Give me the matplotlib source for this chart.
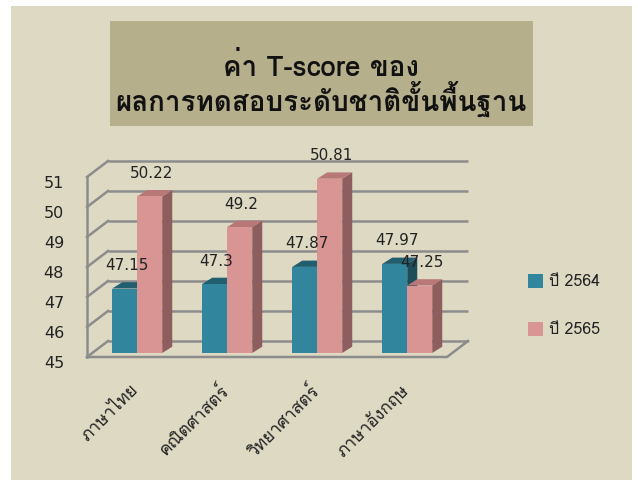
import matplotlib
matplotlib.use("Agg")
import matplotlib.pyplot as plt
from matplotlib.patches import Polygon, Rectangle
from matplotlib import font_manager
from matplotlib.ft2font import FT2Font

categories = ["ภาษาไทย", "คณิตศาสตร์", "วิทยาศาสตร์", "ภาษาอังกฤษ"]
series_names = ["ปี 2564", "ปี 2565"]
values_2564 = [47.15, 47.30, 47.87, 47.97]
values_2565 = [50.22, 49.20, 50.81, 47.25]
label_2564 = ["47.15", "47.3", "47.87", "47.97"]
label_2565 = ["50.22", "49.2", "50.81", "47.25"]
yticks = [45, 46, 47, 48, 49, 50, 51]
title_lines = ["ค่า T-score ของ", "ผลการทดสอบระดับชาติขั้นพื้นฐาน"]

# pick a font with Thai glyphs (prefer Loma)
thai_fonts = []
for f in font_manager.fontManager.ttflist:
    try:
        cm = FT2Font(f.fname).get_charmap()
        if 0x0E01 in cm and f.name not in thai_fonts:
            thai_fonts.append(f.name)
    except Exception:
        pass
pref = [n for n in ["Loma", "Tahoma", "Sarabun", "Noto Sans Thai"] if n in thai_fonts]
thai = (pref or thai_fonts)[:1]
plt.rcParams['font.family'] = thai + ["DejaVu Sans"]

W, H = 638, 481
fig = plt.figure(figsize=(W / 100, H / 100), dpi=100)
fig.patch.set_facecolor("white")
fig.add_artist(Rectangle((11 / W, 0), 621 / W, 1 - 7 / H, transform=fig.transFigure,
                         facecolor="#DDD9C3", edgecolor="none", zorder=0))
# title box
fig.add_artist(Rectangle((110 / W, 1 - 127 / H), 423 / W, 105 / H, transform=fig.transFigure,
                         facecolor="#B6AF8B", edgecolor="none", zorder=1))
fig.text(321 / W, 1 - 66 / H, title_lines[0], ha="center", va="center", fontsize=20,
         fontweight="bold", zorder=2, color="#111111")
fig.text(321 / W, 1 - 100 / H, title_lines[1], ha="center", va="center", fontsize=20,
         fontweight="bold", zorder=2, color="#111111")

# axes: 1 x unit = 90 px, 1 y unit = 30 px; x=-0.5 at px 87, y=45 at px 358 (front plane)
x0, x1 = -0.6, 3.8
y0, y1 = 44.5, 52.0
left_px = 87 + (x0 + 0.5) * 90
right_px = 87 + (x1 + 0.5) * 90
top_px = 358 - (y1 - 45) * 30
bot_px = 358 - (y0 - 45) * 30
ax = fig.add_axes([left_px / W, 1 - bot_px / H, (right_px - left_px) / W, (bot_px - top_px) / H])
ax.set_xlim(x0, x1)
ax.set_ylim(y0, y1)
ax.axis("off")
ax.patch.set_alpha(0)

DX, DY = 21 / 90, 16 / 30   # wall depth
grid_c = "#8C8C8C"
lw = 1.8
n = len(categories)
xl, xr = -0.5, n - 0.5
for v in yticks:
    ax.plot([xl + DX, xr + DX], [v + DY, v + DY], color=grid_c, lw=lw, zorder=1,
            solid_capstyle="butt")
    ax.plot([xl, xl + DX], [v, v + DY], color=grid_c, lw=lw, zorder=1)
ax.plot([xl, xl], [yticks[0], yticks[-1]], color=grid_c, lw=lw, zorder=1)
# floor
ax.plot([xl, xr, xr + DX], [45, 45, 45 + DY], color=grid_c, lw=lw, zorder=1)

# y tick labels
for v in yticks:
    ax.text(xl - 0.255, v - 0.17, str(v), ha="right", va="center", fontsize=11.5,
            family=["DejaVu Sans"], color="#222222")

# bars
f = 0.25
bx = f * DX
base = 45 + f * DY
bw = 25 / 90
bdx, bdy = 10 / 90, 6.3 / 30
front_cols = ["#31869D", "#D99594"]
top_cols = ["#215F70", "#B87877"]
side_cols = ["#1D4C5A", "#8E5E5E"]
zc = 3
for i in range(n):
    for s, vals in enumerate([values_2564, values_2565]):
        xa = i - bw + bx + s * bw
        top = vals[i] - 45 + base
        ax.bar(xa, vals[i] - 45, width=bw, bottom=base, align="edge",
               color=front_cols[s], edgecolor="none", zorder=zc + 2)
        ax.add_patch(Polygon([(xa, top), (xa + bw, top), (xa + bw + bdx, top + bdy),
                              (xa + bdx, top + bdy)], closed=True,
                             facecolor=top_cols[s], edgecolor="none", zorder=zc + 1))
        ax.add_patch(Polygon([(xa + bw, base), (xa + bw + bdx, base + bdy),
                              (xa + bw + bdx, top + bdy), (xa + bw, top)], closed=True,
                             facecolor=side_cols[s], edgecolor="none", zorder=zc))
        zc += 3

# data labels
for i in range(n):
    for s, (vals, labs) in enumerate([(values_2564, label_2564), (values_2565, label_2565)]):
        xc = i - bw + bx + s * bw + bw / 2 + 0.02
        top = vals[i] - 45 + base
        ax.text(xc, top + 0.8, labs[i], ha="center", va="center", fontsize=11,
                family=["DejaVu Sans"], color="#222222", zorder=50)

# category labels
for i, c in enumerate(categories):
    ax.text(i + 0.05, 44.0, c, rotation=45, rotation_mode="anchor", ha="right",
            va="center", fontsize=12.5, color="#222222")

# legend
for s, name in enumerate(series_names):
    yc = 282 + s * 48
    fig.add_artist(Rectangle((528 / W, 1 - (yc + 7) / H), 15 / W, 14 / H,
                             transform=fig.transFigure, facecolor=front_cols[s],
                             edgecolor="none", zorder=2))
    fig.text(549 / W, 1 - yc / H, name, ha="left", va="center", fontsize=11.5,
             color="#222222", zorder=2)

fig.savefig("out.png", dpi=100, facecolor=fig.get_facecolor())
